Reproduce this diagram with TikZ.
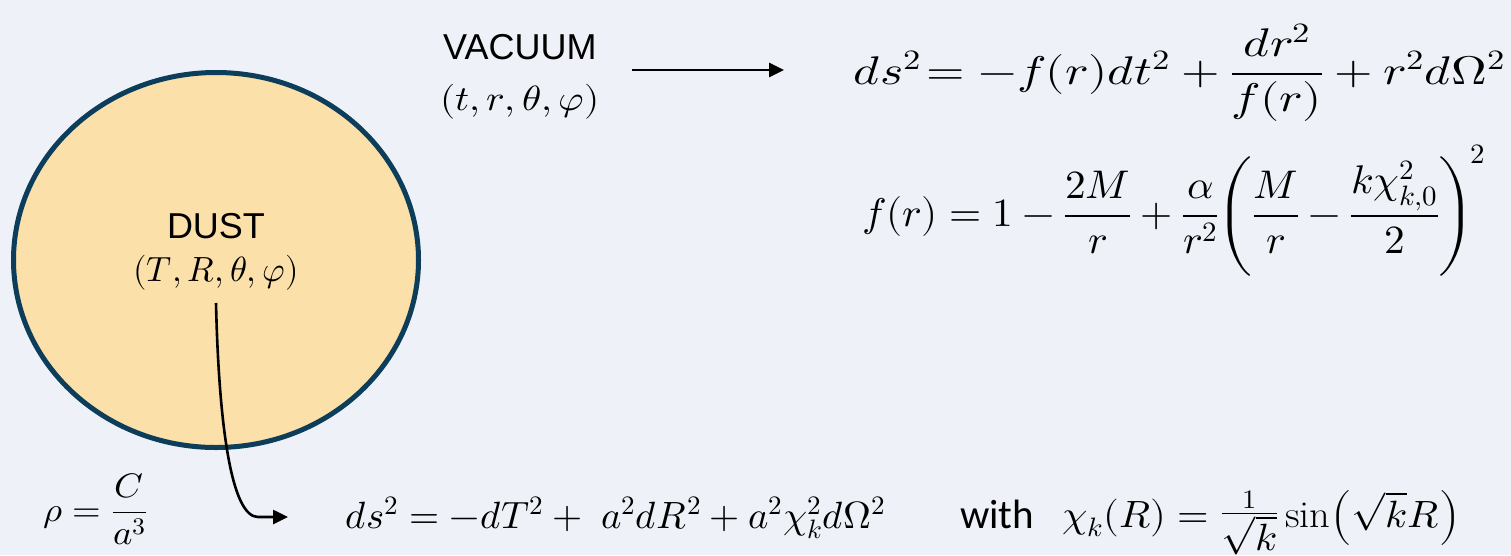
\documentclass[tikz,border=0pt]{standalone}
\usepackage{fontspec}
\usepackage{unicode-math}
\setmathfont{Latin Modern Math}
\usepackage{graphicx}
\usetikzlibrary{arrows.meta,shapes.geometric}
\newfontfamily\arialf{Liberation Sans}
\newfontfamily\calf{Carlito}
\definecolor{bgc}{HTML}{EEF2F8}
\definecolor{dustfill}{HTML}{FCE0AA}
\definecolor{dustline}{HTML}{0C3D5A}
\tikzset{
  lbl/.style={inner sep=0pt, font=\arialf\fontsize{36}{40}\selectfont},
  mth/.style={inner sep=0pt, font=\fontsize{#1}{#1}\selectfont},
  conn/.style={line width=2.6pt, -{Triangle[length=15pt,width=14pt]}},
}
\begin{document}
\begin{tikzpicture}[x=1pt,y=-1pt]
\fill[bgc] (0,0) rectangle (1511,555);
\useasboundingbox (0,0) rectangle (1511,555);
% dust sphere
\node[ellipse, draw=dustline, line width=5pt, fill=dustfill,
      minimum width=405pt, minimum height=375pt, inner sep=0pt] (dust) at (216,260) {};
\node[lbl] (dustname) at (216,226) {DUST};
\node[mth=35] (dustcoord) at (216,273) {\resizebox{165pt}{\height}{$(T,R,\theta,\varphi)$}};
% vacuum
\node[lbl, anchor=west] (vac) at (443,47.5) {VACUUM};
\node[mth=35, anchor=west] (vaccoord) at (440,102) {\resizebox{159pt}{\height}{$(t,r,\theta,\varphi)$}};
% vacuum metric
\node[mth=40, anchor=base west] (vmetric) at (853,84)
  {\resizebox{652pt}{\height}{$ds^2\mkern-3mu=-f(r)dt^2+\dfrac{dr^2}{f(r)}+r^2d\Omega^2$}};
\node[mth=40, anchor=base west] (fdef) at (862,226)
  {\resizebox{623pt}{\height}{$f(r)=1-\dfrac{2M}{r}+\dfrac{\alpha}{r^2}\mkern-4mu\left(\dfrac{M}{r}-\dfrac{k\chi_{k,0}^2}{2}\right)^{\!2}$}};
% dust metric
\node[mth=34, anchor=base west] (rho) at (43,521)
  {\resizebox{104pt}{\height}{$\rho=\dfrac{C}{a^3}$}};
\node[mth=38, anchor=base west] (frw) at (345,528)
  {\resizebox{540pt}{\height}{$ds^2=-dT^2+\;a^2dR^2+a^2\chi_k^2d\Omega^2$}};
\node[anchor=base west, inner sep=0pt, font=\calf\fontsize{41}{44}\selectfont] (with) at (960,528) {with};
\node[mth=38, anchor=base west] (chi) at (1062,527)
  {\resizebox{398pt}{\height}{$\chi_k(R)=\raisebox{4pt}{$\frac{1}{\textstyle\sqrt{k}}$}\sin\!\left(\sqrt{k}R\right)$}};
% connectors
\coordinate (a1s) at (632,70);
\coordinate (a1e) at (784,70);
\draw[conn] (a1s) -- (a1e);
\coordinate (c1s) at (216,303);
\coordinate (c1k) at (258,517);
\coordinate (c1e) at (288,517);
\draw[conn] (c1s) .. controls (219,430) and (232,517) .. (c1k) -- (c1e);
\end{tikzpicture}
\end{document}
